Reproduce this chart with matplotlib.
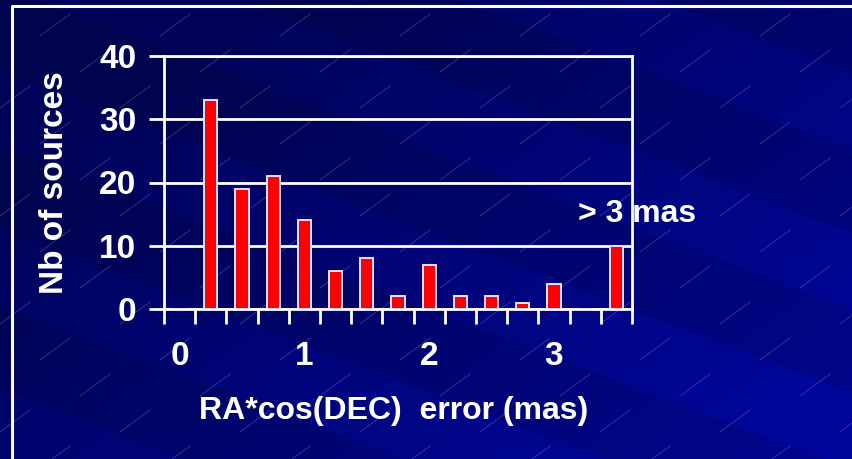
import numpy as np
import matplotlib.pyplot as plt

plt.rcParams['font.family'] = ['Liberation Sans', 'DejaVu Sans']
plt.rcParams['font.weight'] = 'bold'
plt.rcParams['axes.labelweight'] = 'bold'

# error bins of 0.25 mas, the last one collects everything above 3 mas
bins = ['0', '0.25', '0.5', '0.75', '1', '1.25', '1.5', '1.75',
        '2', '2.25', '2.5', '2.75', '3', '3.25', '>3']
counts = [0, 33, 19, 21, 14, 6, 8, 2, 7, 2, 2, 1, 4, 0, 10]
tick_labels = ['0', '1', '2', '3']
tick_bins = [0, 4, 8, 12]

W, H = 852, 459
fig = plt.figure(figsize=(W / 100, H / 100), dpi=100)

# slide background: blue gradient with diagonal bands and thin streaks
bg = fig.add_axes([0, 0, 1, 1])
yy, xx = np.mgrid[0:H, 0:W]
t = np.clip(0.75 * xx / W + 0.6 * yy / H - 0.25, 0, 1)
blue = 88 + 68 * t
c = yy - 0.38 * xx
dark = ((c + 174) % 160) < 83
blue = np.where(dark, blue * 0.88, blue)
img = np.dstack([np.zeros_like(blue), blue * 0.04, blue]) / 255.0
bg.imshow(img, extent=[0, W, H, 0], aspect='auto', interpolation='bilinear')
for j in range(-2, 16):
    for i in range(-2, 10):
        x0 = i * 120 + (j % 3) * 40
        y0 = j * 36
        bg.plot([x0, x0 + 30], [y0, y0 - 22], color=(0.7, 0.7, 0.95),
                lw=0.5, alpha=0.35)
# slide frame
bg.plot([12, 12, W + 5], [H + 5, 6, 6], color='white', lw=2.2)
bg.set_xlim(0, W)
bg.set_ylim(H, 0)
bg.axis('off')

ax = fig.add_axes([164 / W, (H - 309) / H, (632 - 164) / W, (309 - 56) / H])
ax.patch.set_alpha(0)
x = np.arange(len(bins))
ax.bar(x, counts, width=0.42, color='#ff0000', edgecolor='#e4e0ff',
       linewidth=1.4, zorder=3)

ax.set_xlim(-0.5, len(bins) - 0.5)
ax.set_ylim(0, 40)
ax.set_yticks([0, 10, 20, 30, 40])
ax.set_xticks(np.arange(len(bins) + 1) - 0.5)
ax.set_xticklabels([])
ax.set_xticks(tick_bins, minor=True)
ax.set_xticklabels(tick_labels, minor=True)
ax.tick_params(axis='x', which='major', direction='out', length=11,
               width=2, color='white')
ax.tick_params(axis='x', which='minor', length=0, pad=23,
               labelsize=24, labelcolor='white')
ax.tick_params(axis='y', direction='out', length=11, width=2,
               color='white', pad=9, labelsize=24, labelcolor='white')
ax.yaxis.grid(True, color='white', lw=2)
ax.set_axisbelow(True)
for s in ax.spines.values():
    s.set_color('white')
    s.set_linewidth(2)

ax.set_ylabel('Nb of sources', fontsize=24, color='white')
ax.yaxis.set_label_coords(-0.2, 0.5)
ax.set_xlabel('RA*cos(DEC)  error (mas)', fontsize=23, color='white')
ax.xaxis.set_label_coords(0.49, -0.345)

ax.text(12.77, 15.0, '> 3 mas', fontsize=23, color='white',
        ha='left', va='center', clip_on=False, zorder=1)

fig.savefig('out.png', dpi=100)
